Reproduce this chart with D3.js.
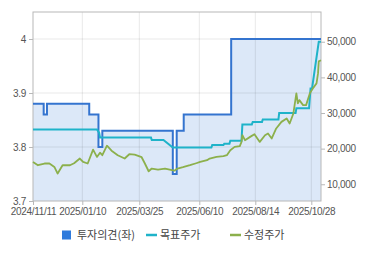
<!DOCTYPE html>
<html>
<head>
<meta charset="utf-8">
<script src="https://cdn.jsdelivr.net/npm/d3@7"></script>
<style>
    body { margin: 0; background: #fff; }
    .axis text { font-family: "Liberation Sans", Arial, sans-serif; font-size: 10px; fill: #555; letter-spacing: -0.3px; }
    .legend text { font-family: "Noto Sans CJK KR", sans-serif; font-size: 11px; fill: #444; }
</style>
</head>
<body>
<div id="chart"></div>
<script>
// Tick labels (x axis), plus last data date
const xTicks = ['2024-11-11', '2025-01-10', '2025-03-25', '2025-06-10', '2025-08-14', '2025-10-28'];
const lastDate = '2025-11-10';
const leftTicks = [3.7, 3.8, 3.9, 4];
const rightTicks = [10000, 20000, 30000, 40000, 50000];

// 투자의견 (left axis, step)
const opinionDates = ['2024-11-11', '2024-11-24', '2024-11-28', '2025-01-19', '2025-01-31', '2025-02-05',
    '2025-05-07', '2025-05-12', '2025-05-21', '2025-07-17', '2025-11-10'];
const opinionValues = [3.88, 3.86, 3.88, 3.86, 3.80, 3.83, 3.75, 3.83, 3.86, 4.0, 4.0];

// 목표주가 (right axis)
const targetDates = ['2024-11-11', '2025-01-29', '2025-02-01', '2025-02-02', '2025-04-09', '2025-04-10',
    '2025-04-25', '2025-05-07', '2025-06-24', '2025-06-25', '2025-07-08', '2025-07-09', '2025-07-15',
    '2025-07-16', '2025-07-29', '2025-07-30', '2025-08-10', '2025-08-11', '2025-08-23', '2025-08-24',
    '2025-09-14', '2025-09-15', '2025-10-07', '2025-10-08', '2025-10-25', '2025-10-27', '2025-10-29',
    '2025-11-07', '2025-11-10'];
const targetValues = [25400, 25400, 24400, 23100, 23100, 22400,
    22400, 20300, 20300, 21000, 21000, 21400, 21400,
    22200, 22200, 26800, 26800, 27500, 27500, 28200,
    28200, 30000, 30000, 31300, 31300, 36900, 36900,
    50000, 50000];

// 수정주가 (right axis)
const priceDates = ['2024-11-11', '2024-11-17', '2024-11-25', '2024-12-01', '2024-12-07', '2024-12-11',
    '2024-12-17', '2024-12-26', '2024-12-31', '2025-01-07', '2025-01-11', '2025-01-17', '2025-01-24',
    '2025-01-29', '2025-02-02', '2025-02-05', '2025-02-11', '2025-02-17', '2025-02-25', '2025-03-06',
    '2025-03-12', '2025-03-19', '2025-03-28', '2025-04-01', '2025-04-06', '2025-04-10', '2025-04-18',
    '2025-04-27', '2025-05-06', '2025-05-09', '2025-05-13', '2025-05-20', '2025-05-29', '2025-06-06',
    '2025-06-11', '2025-06-19', '2025-06-22', '2025-06-30', '2025-07-08', '2025-07-12', '2025-07-16',
    '2025-07-21', '2025-07-27', '2025-07-29', '2025-07-30', '2025-08-02', '2025-08-08', '2025-08-13',
    '2025-08-20', '2025-08-27', '2025-08-31', '2025-09-05', '2025-09-11', '2025-09-18', '2025-09-25',
    '2025-09-29', '2025-10-04', '2025-10-08', '2025-10-10', '2025-10-12', '2025-10-17', '2025-10-21',
    '2025-10-26', '2025-10-30', '2025-11-04', '2025-11-06', '2025-11-07', '2025-11-10'];
const priceValues = [16270, 15340, 15820, 15820, 14860, 13010,
    15340, 15340, 15900, 17220, 16270, 15820, 19700,
    17670, 18850, 18150, 20820, 19420, 18150, 17220,
    18430, 18290, 17590, 15900, 13650, 14410, 14130,
    14410, 13940, 13800, 14410, 14780, 15340, 15900,
    16270, 16750, 17220, 17670, 17870, 18150, 19560,
    20490, 20680, 21890, 23770, 22370, 23300, 24060,
    21890, 23770, 24250, 22850, 25660, 27510, 28470,
    27060, 29870, 35500, 32690, 33610, 32210, 32210,
    35500, 36900, 38310, 41120, 44500, 44800];

const legendLabels = ['투자의견(좌)', '목표주가', '수정주가'];

const margin = { top: 12, right: 49, bottom: 54, left: 33 };
const W = 370, H = 255;
const width = W - margin.left - margin.right;
const height = H - margin.top - margin.bottom;
const parse = d3.timeParse('%Y-%m-%d');

const colors = { opinion: '#3474cf', fill: '#dce8f8', target: '#1fb3c9', price: '#8cb04c' };

const svg = d3.select('#chart').append('svg')
    .attr('width', W).attr('height', H);
const g = svg.append('g').attr('transform', `translate(${margin.left},${margin.top})`);

// x axis runs on trading days, so tick spacing is not even in calendar time
const x = d3.scaleTime()
    .domain(xTicks.concat([lastDate]).map(parse))
    .range([0, 49.3, 106.3, 166.3, 222.3, 278.3, width]);
const yL = d3.scaleLinear().domain([3.7, 4.05]).range([height, 0]);
const yR = d3.scaleLinear().domain([5300, 58350]).range([height, 0]);

const opinion = opinionDates.map((d, i) => ({ date: parse(d), v: opinionValues[i] }));
const target = targetDates.map((d, i) => ({ date: parse(d), v: targetValues[i] }));
const price = priceDates.map((d, i) => ({ date: parse(d), v: priceValues[i] }));

// Area under opinion
g.append('path')
    .datum(opinion)
    .attr('fill', colors.fill)
    .attr('d', d3.area().curve(d3.curveStepAfter)
        .x(d => x(d.date)).y0(height).y1(d => yL(d.v)));

// Grid
g.append('g')
    .selectAll('line')
    .data(leftTicks.slice(1))
    .join('line')
    .attr('x1', 0).attr('x2', width)
    .attr('y1', d => yL(d)).attr('y2', d => yL(d))
    .attr('stroke', 'rgba(0,0,0,0.09)');
g.append('g')
    .selectAll('line')
    .data(xTicks.slice(1).map(parse))
    .join('line')
    .attr('x1', d => x(d)).attr('x2', d => x(d))
    .attr('y1', 0).attr('y2', height)
    .attr('stroke', 'rgba(0,0,0,0.09)');

// Axes
const xAxis = g.append('g')
    .attr('class', 'axis')
    .attr('transform', `translate(0,${height})`)
    .call(d3.axisBottom(x)
        .tickValues(xTicks.map(parse))
        .tickSize(4)
        .tickFormat(d3.timeFormat('%Y/%m/%d')));

g.append('g')
    .attr('class', 'axis')
    .call(d3.axisLeft(yL)
        .tickValues(leftTicks)
        .tickSize(4)
        .tickPadding(3)
        .tickFormat(d => d === 4 ? '4' : d.toFixed(1)));

g.append('g')
    .attr('class', 'axis')
    .attr('transform', `translate(${width},0)`)
    .call(d3.axisRight(yR)
        .tickValues(rightTicks)
        .tickSize(4)
        .tickPadding(2)
        .tickFormat(d3.format(',')));

g.selectAll('.axis .domain').remove();
g.selectAll('.axis line').attr('stroke', '#b8b8b8');

// Frame
g.append('rect')
    .attr('width', width).attr('height', height)
    .attr('fill', 'none')
    .attr('stroke', '#b8b8b8');

// Lines
g.append('path')
    .datum(opinion)
    .attr('fill', 'none')
    .attr('stroke', colors.opinion)
    .attr('stroke-width', 2)
    .attr('d', d3.line().curve(d3.curveStepAfter).x(d => x(d.date)).y(d => yL(d.v)));

g.append('path')
    .datum(target)
    .attr('fill', 'none')
    .attr('stroke', colors.target)
    .attr('stroke-width', 2)
    .attr('d', d3.line().x(d => x(d.date)).y(d => yR(d.v)));

g.append('path')
    .datum(price)
    .attr('fill', 'none')
    .attr('stroke', colors.price)
    .attr('stroke-width', 1.8)
    .attr('stroke-linejoin', 'round')
    .attr('d', d3.line().x(d => x(d.date)).y(d => yR(d.v)));

// Legend
const legend = svg.append('g').attr('class', 'legend');
const legendX = [62, 146, 230];
const legendColors = [colors.opinion, colors.target, colors.price];
legendLabels.forEach((label, i) => {
    const item = legend.append('g').attr('transform', `translate(${legendX[i]},235)`);
    if (i === 0) {
        item.append('rect').attr('x', 0).attr('y', -4.5).attr('width', 9).attr('height', 9)
            .attr('fill', '#2f7bdc');
    } else {
        item.append('line').attr('x1', 0).attr('x2', 11).attr('y1', 0).attr('y2', 0)
            .attr('stroke', legendColors[i]).attr('stroke-width', 2.5);
    }
    item.append('text')
        .attr('x', i === 0 ? 15 : 14)
        .attr('y', 4)
        .text(label);
});
</script>
</body>
</html>
